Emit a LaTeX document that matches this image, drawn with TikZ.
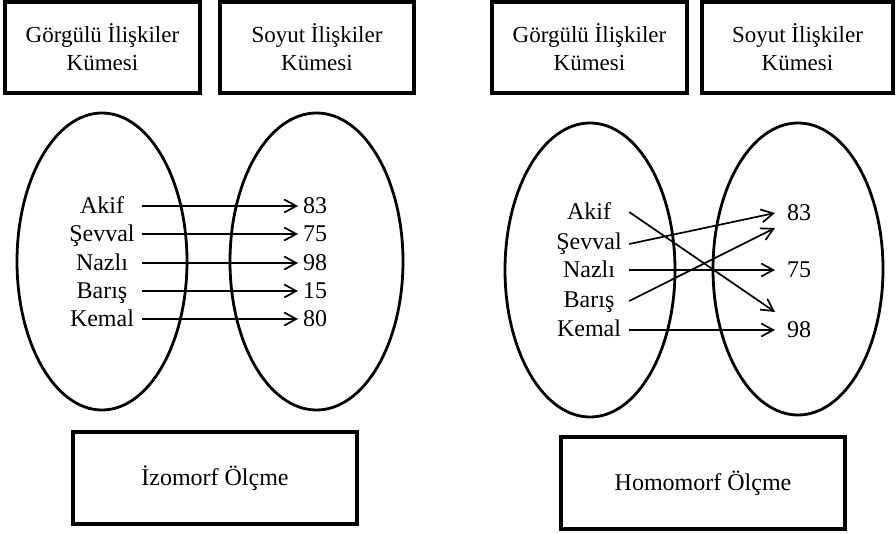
\documentclass[tikz,border=0pt]{standalone}
\usepackage{fontspec}
\setmainfont{Liberation Serif}
\usetikzlibrary{arrows.meta,shapes.geometric}
\begin{document}
\begin{tikzpicture}[x=1pt,y=-1pt,
  box/.style={draw,line width=3.3pt,align=center,inner sep=0pt,font=\fontsize{23}{28}\selectfont},
  oval/.style={draw,ellipse,line width=2.8pt,inner sep=0pt},
  lbl/.style={font=\fontsize{24}{28}\selectfont,text height=15.5pt,text depth=0pt,inner ysep=0pt},
  elem/.style={lbl,anchor=center,inner xsep=0pt,minimum width=80pt,align=center},
  valL/.style={lbl,anchor=west,inner xsep=5pt},
  valR/.style={lbl,anchor=west,inner xsep=12pt},
  map/.style={line width=1.7pt,-{Straight Barb[length=12pt,width=13pt]}}
]
\useasboundingbox (0,0) rectangle (896,534);
% top boxes
\node[box,minimum width=195pt,minimum height=91pt] (g1) at (102.5,47.5) {Görgülü İlişkiler\\Kümesi};
\node[box,minimum width=194pt,minimum height=91pt] (s1) at (317,47.5) {Soyut İlişkiler\\Kümesi};
\node[box,minimum width=195pt,minimum height=91pt] (g2) at (589.5,47.5) {Görgülü İlişkiler\\Kümesi};
\node[box,minimum width=191pt,minimum height=91pt] (s2) at (797.5,47.5) {Soyut İlişkiler\\Kümesi};
% ellipses
\node[oval,minimum width=170pt,minimum height=297pt] (e1) at (102,261.5) {};
\node[oval,minimum width=173pt,minimum height=297pt] (e2) at (316.5,261.5) {};
\node[oval,minimum width=170pt,minimum height=294pt] (e3) at (590,270) {};
\node[oval,minimum width=170pt,minimum height=292pt] (e4) at (798,269) {};
% left panel
\node[elem] (la) at (102,206) {Akif};
\node[elem] (ls) at (102,234) {Şevval};
\node[elem] (ln) at (102,263) {Nazlı};
\node[elem] (lb) at (102,291) {Barış};
\node[elem] (lk) at (102,319) {Kemal};
\node[valL] (l83) at (298,206) {83};
\node[valL] (l75) at (298,234) {75};
\node[valL] (l98) at (298,263) {98};
\node[valL] (l15) at (298,291) {15};
\node[valL] (l80) at (298,319) {80};
\draw[map] (la.east) -- (l83.west);
\draw[map] (ls.east) -- (l75.west);
\draw[map] (ln.east) -- (l98.west);
\draw[map] (lb.east) -- (l15.west);
\draw[map] (lk.east) -- (l80.west);
% right panel
\node[elem] (ra) at (589,212) {Akif};
\node[elem] (rs) at (589,242) {Şevval};
\node[elem] (rn) at (589,270) {Nazlı};
\node[elem] (rb) at (589,300) {Barış};
\node[elem] (rk) at (589,329) {Kemal};
\node[valR] (r83) at (775,213) {83};
\node[valR] (r75) at (775,270) {75};
\node[valR] (r98) at (775,330) {98};
\coordinate (ta) at (775,312);
\coordinate (tb) at (775,228);
\draw[map] ([yshift=0pt]ra.east) -- (ta);
\draw[map] ([yshift=-2pt]rs.east) -- (r83.west);
\draw[map] (rn.east) -- (r75.west);
\draw[map] ([yshift=-1pt]rb.east) -- (tb);
\draw[map] ([yshift=-1pt]rk.east) -- (r98.west);
% bottom boxes
\node[box,font=\fontsize{24}{28}\selectfont,minimum width=284pt,minimum height=92pt] (iz) at (215,478) {İzomorf Ölçme};
\node[box,font=\fontsize{24}{28}\selectfont,minimum width=284pt,minimum height=92pt] (ho) at (703,483) {Homomorf Ölçme};
\end{tikzpicture}
\end{document}
